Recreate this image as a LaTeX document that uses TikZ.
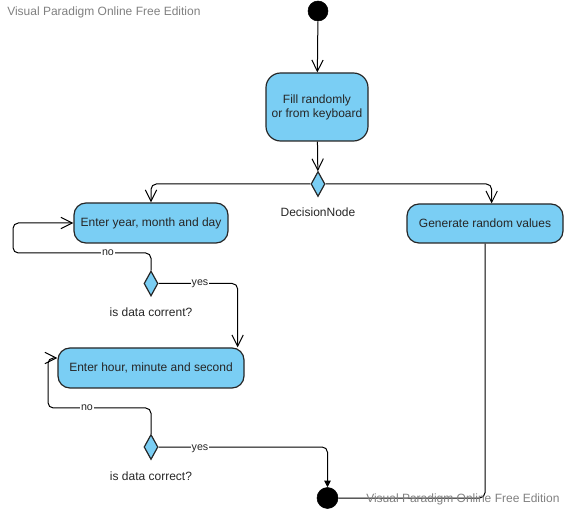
\documentclass[tikz,border=0pt]{standalone}
\usepackage{fontspec}
\setmainfont{Liberation Sans}
\usetikzlibrary{arrows.meta,shapes.geometric,calc}
\definecolor{actfill}{RGB}{122,206,244}
\definecolor{wm}{RGB}{128,128,128}
\begin{document}
\begin{tikzpicture}[x=0.75pt,y=-0.75pt,
  every node/.style={font=\fontsize{9pt}{10.5pt}\selectfont, text=black!85},
  act/.style={draw=black!85, line width=0.9pt, fill=actfill, rounded corners=9pt, align=center, inner sep=0pt},
  dec/.style={draw=black!85, line width=0.9pt, fill=actfill, diamond, minimum width=14*0.75pt, minimum height=25*0.75pt, inner sep=0pt, shape aspect=0.56},
  dot/.style={circle, fill=black, draw=black, minimum size=20*0.75pt, inner sep=0pt},
  flow/.style={draw=black, line width=0.75pt, rounded corners=4pt},
  barb/.style={-{Straight Barb[length=8.5pt,width=8.5pt,line width=0.75pt]}},
  tri/.style={-{Triangle[length=5pt,width=5pt]}},
  lbl/.style={fill=white, inner sep=0.5pt, font=\fontsize{8pt}{9pt}\selectfont},
  wmark/.style={text=wm, anchor=west, font=\fontsize{9pt}{10.5pt}\selectfont, inner sep=0pt}
]
\useasboundingbox (0,0) rectangle (564,509);

% watermarks
\node[wmark] (wm1) at (7,12) {Visual Paradigm Online Free Edition};

% nodes
\node[dot] (start) at (318,11) {};
\node[act, rounded corners=11pt, minimum width=102*0.75pt, minimum height=68*0.75pt] (fill) at (317,107) {Fill randomly\\or from keyboard};
\node[dec] (d0) at (318,184) {};
\node (d0l) at (318,212) {DecisionNode};
\node[act, minimum width=154*0.75pt, minimum height=40*0.75pt] (ey) at (151,223) {Enter year, month and day};
\node[act, minimum width=156*0.75pt, minimum height=39*0.75pt] (gen) at (485,223.5) {Generate random values};
\node[dec] (d1) at (151,283.5) {};
\node (d1l) at (151,312) {is data corrent?};
\node[act, minimum width=186*0.75pt, minimum height=40*0.75pt] (eh) at (151,368) {Enter hour, minute and second};
\node[dec] (d2) at (151,447) {};
\node (d2l) at (151,476) {is data correct?};
\node[dot, minimum size=21*0.75pt] (endn) at (327.5,498) {};

% connectors
\draw[flow, barb] (start) -- (fill);
\draw[flow, barb] (fill) -- (d0);
\draw[flow, barb] (d0.west) -| (ey.north);
\draw[flow, barb] (d0.east) -| ([xshift=5pt]gen.north);
\draw[flow, barb] (d1.north) |- (13,253) |- (ey.west);
\node[lbl] at (108,253) {no};
\draw[flow, barb] (d1.east) -| ([xshift=-5.25pt]eh.north east);
\node[lbl] at (200,284) {yes};
\draw[flow, barb] (d2.north) |- (48,408) |- ([yshift=7.5pt]eh.west);
\node[lbl] at (87,408) {no};
\draw[flow, tri] (d2.east) -| (endn.north);
\node[lbl] at (200,449) {yes};
\draw[flow] (gen.south) |- (endn.east);

\node[wmark] (wm2) at (366,499) {Visual Paradigm Online Free Edition};
\end{tikzpicture}
\end{document}
